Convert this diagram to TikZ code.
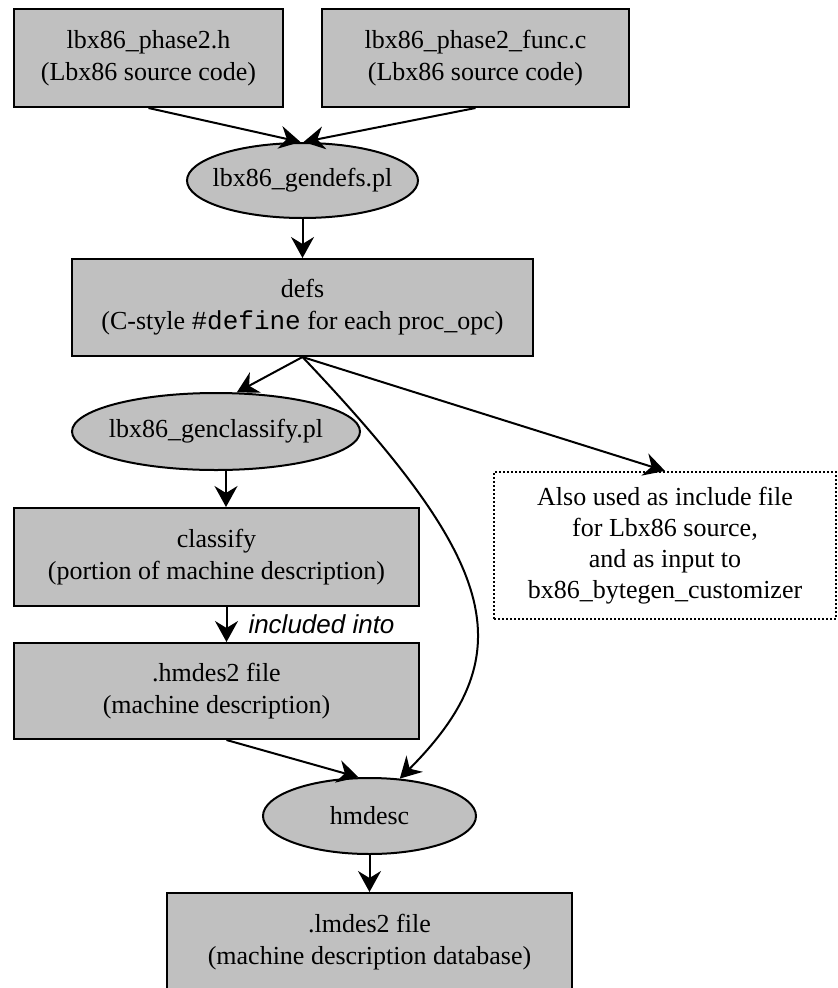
\documentclass[tikz,border=0pt]{standalone}
\usepackage{fontspec}
\setmainfont{Liberation Serif}
\newfontfamily\lsans{Liberation Sans}
\newfontfamily\lmono{Liberation Mono}
\usetikzlibrary{arrows.meta,shapes.geometric}
\definecolor{boxgray}{RGB}{192,192,192}
\tikzset{
  base/.style={draw=black, line width=2pt, fill=boxgray, inner sep=0pt, align=center,
    font=\fontsize{26}{32}\selectfont},
  filebox/.style={base, rectangle},
  procell/.style={base, ellipse, inner xsep=-12pt, inner ysep=-8pt},
  notebox/.style={draw=black, line width=2.2pt, dash pattern=on 2pt off 2pt, inner sep=0pt,
    align=center, font=\fontsize{26}{31}\selectfont},
  conn/.style={line width=2pt, -{Stealth[length=21pt,width=23pt,inset=7pt]}},
  lbl/.style={inner sep=0pt, font=\lsans\itshape\fontsize{26}{32}\selectfont},
}
\begin{document}
\begin{tikzpicture}[x=1pt,y=-1pt]
\clip (0,0) rectangle (838,988);
\node[filebox, minimum width=269pt, minimum height=98pt] (src1) at (148.5,58)
  {lbx86\_phase2.h\\(Lbx86 source code)};
\node[filebox, minimum width=307pt, minimum height=98pt] (src2) at (475.5,58)
  {lbx86\_phase2\_func.c\\(Lbx86 source code)};
\node[procell, minimum width=231pt, minimum height=75pt] (gendefs) at (302.5,180.5)
  {lbx86\_gendefs.pl};
\node[filebox, minimum width=461pt, minimum height=97pt] (defs) at (302.5,307.5)
  {defs\\(C-style {\lmono\#define} for each proc\_opc)};
\node[procell, minimum width=288pt, minimum height=77pt] (gencl) at (216,431.5)
  {lbx86\_genclassify.pl};
\node[notebox, minimum width=342pt, minimum height=147pt] (note) at (665,545.5)
  {Also used as include file\\for Lbx86 source,\\and as input to\\bx86\_bytegen\_customizer};
\node[filebox, minimum width=405pt, minimum height=98pt] (classify) at (216.5,557)
  {classify\\(portion of machine description)};
\node[filebox, minimum width=405pt, minimum height=96pt] (hmdes) at (216.5,691)
  {.hmdes2 file\\(machine description)};
\node[procell, minimum width=213pt, minimum height=76pt] (hmdesc) at (369.5,816)
  {hmdesc};
\node[filebox, minimum width=405pt, minimum height=98pt] (lmdes) at (369.5,942)
  {.lmdes2 file\\(machine description database)};

\draw[conn] (src1.south) -- ([xshift=-2pt]gendefs.north);
\draw[conn] (src2.south) -- ([xshift=1pt]gendefs.north);
\draw[conn] (gendefs.south) -- (defs.north);
\draw[conn] (defs.south) -- (gencl.62);
\draw[conn] (defs.south) -- (note.north);
\draw[conn] (defs.south) .. controls (495,560) and (527,651) .. (hmdesc.51);
\draw[conn] ([xshift=10pt]gencl.south) -- ([xshift=10pt]gencl.south |- classify.north);
\draw[conn] ([xshift=10pt]classify.south) -- ([xshift=10pt]hmdes.north)
  node[lbl, midway, anchor=west, xshift=21pt] (inc) {included into};
\draw[conn] ([xshift=10pt]hmdes.south) -- (hmdesc.106);
\draw[conn] (hmdesc.south) -- (lmdes.north);
\end{tikzpicture}
\end{document}
